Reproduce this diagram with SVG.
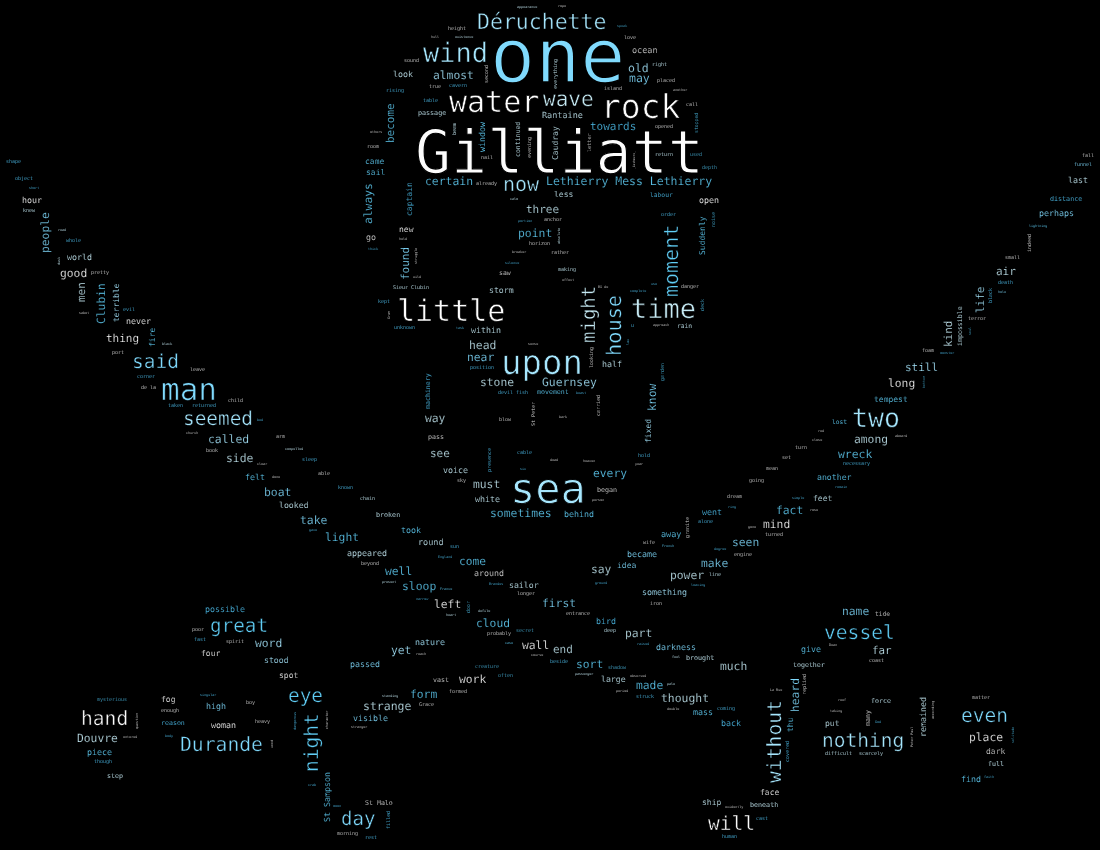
<svg xmlns="http://www.w3.org/2000/svg" width="1100" height="850" viewBox="0 0 1100 850">
<style>
text{font-family:"DejaVu Sans Mono","Liberation Mono",monospace;white-space:pre;text-rendering:geometricPrecision;stroke:#000;stroke-width:.02em}
g{opacity:.995}
.a{fill:#fff}.b{fill:#dcdcdc}.c{fill:#c8ecf6}.d{fill:#a8e8ff}.e{fill:#82dcff}.f{fill:#62d0f8}.g{fill:#50c0ee}.h{fill:#48aed4}
</style>
<rect width="1100" height="850" fill="#000"/>
<g id="words-head">
<text class="e" x="490" y="82" font-size="75">one</text>
<text class="a" x="415" y="173" font-size="60">Gilliatt</text>
<text class="d" x="477" y="29" font-size="21.5">Déruchette</text>
<text class="d" x="423" y="62" font-size="27">wind</text>
<text class="a" x="449" y="112" font-size="30">water</text>
<text class="c" x="543" y="106" font-size="21">wave</text>
<text class="a" x="601" y="118" font-size="33">rock</text>
<text class="c" x="542" y="118" font-size="8.5">Rantaine</text>
<text class="b" x="632" y="53" font-size="8.5">ocean</text>
<text class="d" x="628" y="72" font-size="11.5">old</text>
<text class="e" x="629" y="82" font-size="11.5">may</text>
<text class="b" x="624" y="39" font-size="5">love</text>
<text class="c" x="652" y="66" font-size="5">right</text>
<text class="b" x="657" y="82" font-size="5">placed</text>
<text class="b" x="604" y="90" font-size="5">island</text>
<text class="b" x="673" y="91" font-size="3.4">another</text>
<text class="b" x="686" y="106" font-size="5">call</text>
<text class="h" transform="rotate(-90 698 133)" x="698" y="133" font-size="4.8">stopped</text>
<text class="b" x="655" y="128" font-size="5">opened</text>
<text class="g" x="590" y="130" font-size="11">towards</text>
<text class="c" x="655" y="156" font-size="5">return</text>
<text class="h" x="690" y="156" font-size="5">used</text>
<text class="h" x="702" y="169" font-size="5">depth</text>
<text class="b" transform="rotate(-90 591 152)" x="591" y="152" font-size="5.2">letter</text>
<text class="c" transform="rotate(-90 558 160)" x="558" y="160" font-size="8">Caudray</text>
<text class="b" transform="rotate(-90 635 169)" x="635" y="169" font-size="3">_Cashmere_</text>
<text class="c" transform="rotate(-90 557 89)" x="557" y="89" font-size="5">everything</text>
<text class="h" x="617" y="27" font-size="3.4">speak</text>
<text class="b" x="558" y="7" font-size="3.4">rope</text>
<text class="c" x="517" y="8" font-size="3.4">appearance</text>
<text class="b" x="448" y="30" font-size="5">height</text>
<text class="b" x="431" y="38" font-size="3.4">hull</text>
<text class="c" x="455" y="38" font-size="3.4">existence</text>
<text class="b" x="404" y="62" font-size="5">sound</text>
<text class="c" x="393" y="77" font-size="8.3">look</text>
<text class="d" x="433" y="79" font-size="11.3">almost</text>
<text class="b" transform="rotate(-90 488 83)" x="488" y="83" font-size="5">second</text>
<text class="b" x="429" y="88" font-size="5">true</text>
<text class="g" x="449" y="87" font-size="5">cavern</text>
<text class="g" x="386" y="92" font-size="5">rising</text>
<text class="g" x="423" y="102" font-size="5">table</text>
<text class="c" x="418" y="115" font-size="6.7">passage</text>
<text class="f" transform="rotate(-90 394 143)" x="394" y="143" font-size="11">become</text>
<text class="c" transform="rotate(-90 456 135)" x="456" y="135" font-size="5">beam</text>
<text class="f" transform="rotate(-90 485 152)" x="485" y="152" font-size="8.3">window</text>
<text class="c" transform="rotate(-90 520 157)" x="520" y="157" font-size="6.5">continued</text>
<text class="b" transform="rotate(-90 531 158)" x="531" y="158" font-size="5">evening</text>
<text class="b" x="370" y="133" font-size="3.4">others</text>
<text class="b" x="367" y="148" font-size="5">room</text>
<text class="b" x="481" y="159" font-size="5">nail</text>
<text class="f" x="365" y="164" font-size="8">came</text>
<text class="f" x="366" y="175" font-size="8">sail</text>
<text class="f" transform="rotate(-90 372 224)" x="372" y="224" font-size="11.3">always</text>
<text class="g" transform="rotate(-90 412 216)" x="412" y="216" font-size="8">captain</text>
<text class="f" x="425" y="185" font-size="11.4">certain</text>
<text class="b" x="476" y="185" font-size="5">already</text>
<text class="d" x="503" y="191" font-size="20">now</text>
<text class="c" x="510" y="200" font-size="3.4">calm</text>
<text class="c" x="526" y="213" font-size="11">three</text>
<text class="g" x="518" y="222" font-size="3.4">portion</text>
<text class="a" x="399" y="232" font-size="8">new</text>
<text class="b" x="366" y="240" font-size="8.3">go</text>
<text class="b" x="399" y="240" font-size="3.4">held</text>
<text class="g" x="368" y="250" font-size="3.4">thick</text>
<text class="f" x="518" y="237" font-size="11.4">point</text>
<text class="b" x="529" y="245" font-size="5">horizon</text>
<text class="e" transform="rotate(-90 409 280)" x="409" y="280" font-size="11">found</text>
<text class="b" transform="rotate(-90 417 264)" x="417" y="264" font-size="3.4">struggle</text>
<text class="b" x="512" y="253" font-size="3.4">breaker</text>
<text class="g" x="505" y="264" font-size="3.4">silence</text>
<text class="b" x="499" y="275" font-size="6.5">saw</text>
<text class="b" x="413" y="278" font-size="3.4">wild</text>
<text class="c" x="393" y="289" font-size="5">Sieur Clubin</text>
<text class="c" x="489" y="293" font-size="8.2">storm</text>
<text class="g" x="378" y="303" font-size="5">kept</text>
<text class="a" x="397" y="321" font-size="30">little</text>
<text class="b" transform="rotate(-90 390 319)" x="390" y="319" font-size="3.4">Gram</text>
<text class="g" x="394" y="329" font-size="5">unknown</text>
<text class="g" x="456" y="329" font-size="3.4">task</text>
<text class="c" x="471" y="333" font-size="8.3">within</text>
<text class="c" x="469" y="349" font-size="11.4">head</text>
<text class="b" x="528" y="345" font-size="3.4">sense</text>
<text class="f" x="546" y="185" font-size="11.5">Lethierry Mess Lethierry</text>
<text class="c" x="554" y="197" font-size="8">less</text>
<text class="g" x="650" y="197" font-size="6.3">labour</text>
<text class="a" x="699" y="203" font-size="8.3">open</text>
<text class="g" x="661" y="216" font-size="5">order</text>
<text class="h" transform="rotate(-90 715 227)" x="715" y="227" font-size="5">noise</text>
<text class="b" x="544" y="221" font-size="5">anchor</text>
<text class="f" transform="rotate(-90 705 255)" x="705" y="255" font-size="8">Suddenly</text>
<text class="f" transform="rotate(-90 678 297)" x="678" y="297" font-size="20">moment</text>
<text class="c" transform="rotate(-90 560 244)" x="560" y="244" font-size="3.4">absolute</text>
<text class="b" x="551" y="254" font-size="5">rather</text>
<text class="c" x="558" y="271" font-size="5">making</text>
<text class="b" x="562" y="281" font-size="3.4">effect</text>
<text class="b" x="598" y="288" font-size="3.4">Bû de</text>
<text class="g" x="630" y="292" font-size="3.4">complete</text>
<text class="g" x="651" y="285" font-size="3.4">use</text>
<text class="b" x="681" y="288" font-size="5">danger</text>
<text class="h" transform="rotate(-90 704 311)" x="704" y="311" font-size="5">deck</text>
<text class="c" x="631" y="318" font-size="27">time</text>
<text class="c" transform="rotate(-90 595 343)" x="595" y="343" font-size="19">might</text>
<text class="e" transform="rotate(-90 621 356)" x="621" y="356" font-size="20.3">house</text>
<text class="g" x="631" y="327" font-size="5">u</text>
<text class="b" x="653" y="326" font-size="3.4">approach</text>
<text class="c" x="677" y="328" font-size="6.3">rain</text>
<text class="g" transform="rotate(-90 629 345)" x="629" y="345" font-size="3.4">law</text>
</g>
<g id="words-left">
<text class="g" x="6" y="163" font-size="5">shape</text>
<text class="g" x="15" y="180" font-size="5">object</text>
<text class="g" x="29" y="189" font-size="3.4">short</text>
<text class="a" x="22" y="203" font-size="8.3">hour</text>
<text class="c" x="23" y="212" font-size="5">knew</text>
<text class="e" transform="rotate(-90 49 253)" x="49" y="253" font-size="11.3">people</text>
<text class="c" x="58" y="231" font-size="3.4">read</text>
<text class="g" x="66" y="242" font-size="5">whole</text>
<text class="c" transform="rotate(-90 60 265)" x="60" y="265" font-size="3.4">dusk</text>
<text class="c" x="67" y="260" font-size="8.3">world</text>
<text class="a" x="60" y="277" font-size="11.3">good</text>
<text class="b" x="91" y="274" font-size="5">pretty</text>
<text class="c" transform="rotate(-90 85 302)" x="85" y="302" font-size="11">men</text>
<text class="f" transform="rotate(-90 105 324)" x="105" y="324" font-size="11.3">Clubin</text>
<text class="d" transform="rotate(-90 119 322)" x="119" y="322" font-size="8">terrible</text>
<text class="g" x="123" y="311" font-size="5">evil</text>
<text class="b" x="79" y="314" font-size="3.4">sabot</text>
<text class="a" x="126" y="324" font-size="8.3">never</text>
<text class="a" x="106" y="342" font-size="11">thing</text>
<text class="f" transform="rotate(-90 155 347)" x="155" y="347" font-size="8">fire</text>
<text class="c" x="162" y="345" font-size="3.4">black</text>
<text class="b" x="112" y="354" font-size="5">port</text>
<text class="e" x="132" y="368" font-size="19.5">said</text>
<text class="b" x="190" y="371" font-size="5">leave</text>
<text class="g" x="137" y="378" font-size="5">corner</text>
<text class="b" x="141" y="389" font-size="5">de la</text>
<text class="e" x="161" y="400" font-size="31">man</text>
<text class="g" x="168" y="407" font-size="5">taken</text>
<text class="g" x="192" y="407" font-size="5">returned</text>
<text class="b" x="228" y="402" font-size="5">child</text>
<text class="d" x="183" y="425" font-size="19.4">seemed</text>
<text class="g" x="257" y="421" font-size="3.4">bed</text>
<text class="b" x="186" y="434" font-size="3.4">church</text>
<text class="d" x="208" y="443" font-size="11.4">called</text>
<text class="b" x="276" y="438" font-size="5">arm</text>
<text class="b" x="206" y="452" font-size="5">book</text>
<text class="c" x="285" y="450" font-size="3.4">compelled</text>
<text class="c" x="226" y="462" font-size="11.4">side</text>
<text class="b" x="257" y="465" font-size="3.4">clear</text>
<text class="g" x="302" y="461" font-size="5">sleep</text>
<text class="b" x="318" y="475" font-size="5">able</text>
<text class="f" x="245" y="480" font-size="8.3">felt</text>
<text class="b" x="272" y="478" font-size="3.4">done</text>
<text class="g" x="338" y="489" font-size="5">known</text>
<text class="c" x="360" y="500" font-size="5">chain</text>
<text class="e" x="264" y="496" font-size="11.4">boat</text>
<text class="c" x="279" y="508" font-size="8.2">looked</text>
<text class="c" x="376" y="517" font-size="6.7">broken</text>
<text class="e" x="300" y="524" font-size="11.4">take</text>
<text class="g" x="309" y="531" font-size="3.4">gave</text>
<text class="f" x="401" y="533" font-size="8.3">took</text>
<text class="c" x="418" y="545" font-size="8.5">round</text>
<text class="f" x="325" y="541" font-size="11.3">light</text>
<text class="c" x="347" y="556" font-size="8.3">appeared</text>
<text class="b" x="361" y="565" font-size="5">beyond</text>
<text class="f" x="385" y="575" font-size="11.3">well</text>
<text class="c" x="382" y="583" font-size="3.4">present</text>
<text class="f" x="402" y="590" font-size="11.4">sloop</text>
<text class="g" x="416" y="600" font-size="3.4">narrow</text>
</g>
<g id="words-centre">
<text class="e" x="467" y="361" font-size="11.3">near</text>
<text class="d" x="501" y="374" font-size="34">upon</text>
<text class="b" transform="rotate(-90 593 368)" x="593" y="368" font-size="5">looking</text>
<text class="c" x="602" y="367" font-size="8.3">half</text>
<text class="g" x="470" y="369" font-size="5">position</text>
<text class="g" transform="rotate(-90 430 409)" x="430" y="409" font-size="6.6">machinery</text>
<text class="h" transform="rotate(-90 664 381)" x="664" y="381" font-size="5">garden</text>
<text class="c" x="480" y="386" font-size="11.3">stone</text>
<text class="d" x="542" y="386" font-size="11.4">Guernsey</text>
<text class="e" transform="rotate(-90 656 411)" x="656" y="411" font-size="11.4">know</text>
<text class="g" x="498" y="394" font-size="5">devil fish</text>
<text class="f" x="537" y="394" font-size="6.6">movement</text>
<text class="g" x="576" y="394" font-size="3.4">beast</text>
<text class="b" transform="rotate(-90 600 416)" x="600" y="416" font-size="5">carried</text>
<text class="b" transform="rotate(-90 535 426)" x="535" y="426" font-size="5">St Peter</text>
<text class="c" x="425" y="422" font-size="11.3">way</text>
<text class="b" x="499" y="421" font-size="5">blow</text>
<text class="b" x="559" y="418" font-size="3.4">bark</text>
<text class="d" transform="rotate(-90 651 443)" x="651" y="443" font-size="8">fixed</text>
<text class="b" x="428" y="439" font-size="6.6">pass</text>
<text class="c" x="430" y="457" font-size="11">see</text>
<text class="g" transform="rotate(-90 491 472)" x="491" y="472" font-size="5">presence</text>
<text class="g" x="517" y="454" font-size="5">cable</text>
<text class="g" x="638" y="457" font-size="5">hold</text>
<text class="b" x="550" y="461" font-size="3.4">dead</text>
<text class="b" x="583" y="462" font-size="3.4">heaven</text>
<text class="b" x="635" y="465" font-size="3.4">year</text>
<text class="g" x="520" y="470" font-size="3.4">six</text>
<text class="c" x="443" y="473" font-size="8.3">voice</text>
<text class="f" x="593" y="477" font-size="11.3">every</text>
<text class="b" x="457" y="482" font-size="5">sky</text>
<text class="c" x="473" y="488" font-size="11.3">must</text>
<text class="d" x="510" y="503" font-size="42">sea</text>
<text class="b" x="597" y="492" font-size="6.7">began</text>
<text class="c" x="475" y="502" font-size="8.3">white</text>
<text class="b" x="592" y="501" font-size="3.4">person</text>
<text class="f" x="490" y="517" font-size="11.4">sometimes</text>
<text class="f" x="564" y="517" font-size="8.3">behind</text>
<text class="f" x="661" y="537" font-size="8.5">away</text>
<text class="b" x="643" y="544" font-size="5">wife</text>
<text class="f" x="662" y="547" font-size="3.4">French</text>
<text class="g" x="450" y="548" font-size="5">sun</text>
<text class="g" x="438" y="558" font-size="3.4">England</text>
<text class="e" x="627" y="557" font-size="8.3">became</text>
<text class="f" x="459" y="565" font-size="11.2">come</text>
</g>
<g id="words-right">
<text class="b" x="1082" y="157" font-size="5">fall</text>
<text class="e" x="1074" y="166" font-size="5">funnel</text>
<text class="c" x="1068" y="183" font-size="8.3">last</text>
<text class="g" x="1050" y="201" font-size="6.7">distance</text>
<text class="e" x="1039" y="216" font-size="8.3">perhaps</text>
<text class="f" x="1029" y="227" font-size="3.4">lightning</text>
<text class="b" transform="rotate(-90 1031 252)" x="1031" y="252" font-size="5">indeed</text>
<text class="b" x="1005" y="259" font-size="5">small</text>
<text class="c" x="996" y="275" font-size="11">air</text>
<text class="g" x="998" y="284" font-size="5">death</text>
<text class="e" x="998" y="293" font-size="3.4">hole</text>
<text class="d" transform="rotate(-90 984 313)" x="984" y="313" font-size="11">life</text>
<text class="g" transform="rotate(-90 992 303)" x="992" y="303" font-size="5">black</text>
<text class="b" x="968" y="320" font-size="5">terror</text>
<text class="c" transform="rotate(-90 962 346)" x="962" y="346" font-size="6.6">impossible</text>
<text class="h" transform="rotate(-90 971 335)" x="971" y="335" font-size="3.4">soul</text>
<text class="c" transform="rotate(-90 952 347)" x="952" y="347" font-size="11">kind</text>
<text class="b" x="922" y="352" font-size="5">foam</text>
<text class="g" x="940" y="354" font-size="3.4">monster</text>
<text class="d" x="905" y="371" font-size="11">still</text>
<text class="a" x="888" y="387" font-size="11.3">long</text>
<text class="h" transform="rotate(-90 925 388)" x="925" y="388" font-size="3.4">bottom</text>
<text class="f" x="874" y="402" font-size="8">tempest</text>
<text class="d" x="852" y="427" font-size="26.5">two</text>
<text class="f" x="832" y="424" font-size="6.3">lost</text>
<text class="b" x="818" y="432" font-size="3.4">red</text>
<text class="b" x="812" y="441" font-size="3.4">close</text>
<text class="b" x="895" y="437" font-size="3.4">aboard</text>
<text class="c" x="854" y="443" font-size="11.3">among</text>
<text class="b" x="795" y="449" font-size="5">turn</text>
<text class="b" x="782" y="459" font-size="5">set</text>
<text class="f" x="838" y="458" font-size="11.4">wreck</text>
<text class="g" x="843" y="465" font-size="5">necessary</text>
<text class="b" x="766" y="470" font-size="5">mean</text>
<text class="f" x="817" y="480" font-size="8.2">another</text>
<text class="b" x="749" y="482" font-size="5">going</text>
<text class="g" x="835" y="488" font-size="3.4">remain</text>
<text class="b" x="727" y="498" font-size="5">dream</text>
<text class="g" x="792" y="499" font-size="3.4">simple</text>
<text class="c" x="813" y="501" font-size="8">feet</text>
<text class="g" x="728" y="508" font-size="3.4">ring</text>
<text class="b" x="810" y="511" font-size="3.4">rose</text>
<text class="f" x="776" y="514" font-size="11.3">fact</text>
<text class="g" x="702" y="515" font-size="8.3">went</text>
<text class="g" x="698" y="523" font-size="5">alone</text>
<text class="b" x="748" y="528" font-size="3.4">gone</text>
<text class="a" x="763" y="528" font-size="11.3">mind</text>
<text class="b" x="765" y="536" font-size="5">turned</text>
<text class="b" transform="rotate(-90 689 538)" x="689" y="538" font-size="5">granite</text>
<text class="e" x="732" y="546" font-size="11.3">seen</text>
<text class="g" x="714" y="550" font-size="3.4">degree</text>
<text class="b" x="734" y="556" font-size="5">engine</text>
<text class="e" x="701" y="567" font-size="11.3">make</text>
<text class="c" x="670" y="579" font-size="11.3">power</text>
<text class="c" x="709" y="576" font-size="5">line</text>
<text class="g" x="691" y="586" font-size="3.4">leaving</text>
</g>
<g id="words-bottom-left">
<text class="g" x="205" y="612" font-size="8.3">possible</text>
<text class="f" x="210" y="632" font-size="19.3">great</text>
<text class="b" x="192" y="631" font-size="5">poor</text>
<text class="g" x="194" y="641" font-size="5">fast</text>
<text class="b" x="226" y="643" font-size="5">spirit</text>
<text class="d" x="255" y="647" font-size="11.3">word</text>
<text class="a" x="201" y="656" font-size="8">four</text>
<text class="d" x="264" y="663" font-size="8.2">stood</text>
<text class="e" x="350" y="667" font-size="8.3">passed</text>
<text class="a" x="279" y="678" font-size="8">spot</text>
<text class="f" x="288" y="702" font-size="19.4">eye</text>
<text class="h" x="97" y="701" font-size="5">mysterious</text>
<text class="a" x="161" y="702" font-size="8">fog</text>
<text class="g" x="200" y="696" font-size="3.4">singular</text>
<text class="b" x="246" y="704" font-size="5">boy</text>
<text class="b" x="161" y="712" font-size="5">enough</text>
<text class="e" x="206" y="709" font-size="8.3">high</text>
<text class="a" x="81" y="725" font-size="19.6">hand</text>
<text class="b" transform="rotate(-90 138 729)" x="138" y="729" font-size="3.4">question</text>
<text class="g" x="161" y="725" font-size="6.6">reason</text>
<text class="a" x="211" y="728" font-size="8.3">woman</text>
<text class="b" x="255" y="723" font-size="5">heavy</text>
<text class="g" transform="rotate(-90 296 730)" x="296" y="730" font-size="3.4">dangerous</text>
<text class="b" transform="rotate(-90 328 729)" x="328" y="729" font-size="3.4">character</text>
<text class="f" transform="rotate(-90 318 772)" x="318" y="772" font-size="19.5">night</text>
<text class="c" x="77" y="742" font-size="11.3">Douvre</text>
<text class="b" x="123" y="738" font-size="3.4">entered</text>
<text class="g" x="165" y="737" font-size="3.4">body</text>
<text class="e" x="180" y="751" font-size="19.7">Durande</text>
<text class="b" transform="rotate(-90 273 748)" x="273" y="748" font-size="3.4">wood</text>
<text class="f" x="87" y="755" font-size="8.3">piece</text>
<text class="g" x="94" y="763" font-size="5">though</text>
<text class="c" x="107" y="778" font-size="6.6">step</text>
<text class="g" x="308" y="786" font-size="3.4">crab</text>
<text class="f" transform="rotate(-90 330 822)" x="330" y="822" font-size="8.3">St Sampson</text>
<text class="g" x="333" y="807" font-size="3.4">moon</text>
<text class="b" x="365" y="805" font-size="6.6">St Malo</text>
<text class="e" x="341" y="825" font-size="19">day</text>
<text class="g" transform="rotate(-90 390 829)" x="390" y="829" font-size="5">filled</text>
<text class="b" x="337" y="835" font-size="5">morning</text>
<text class="g" x="365" y="839" font-size="5">rest</text>
</g>
<g id="words-bottom-centre">
<text class="b" x="474" y="576" font-size="8.3">around</text>
<text class="c" x="591" y="573" font-size="11.3">say</text>
<text class="e" x="617" y="568" font-size="8">idea</text>
<text class="g" x="489" y="585" font-size="3.4">Brandes</text>
<text class="c" x="509" y="588" font-size="8.2">sailor</text>
<text class="g" x="595" y="584" font-size="3.4">ground</text>
<text class="f" x="440" y="590" font-size="3.4">France</text>
<text class="d" x="642" y="595" font-size="8.3">something</text>
<text class="b" x="517" y="595" font-size="5">longer</text>
<text class="a" x="434" y="608" font-size="11.3">left</text>
<text class="h" transform="rotate(-90 470 613)" x="470" y="613" font-size="5">door</text>
<text class="c" x="478" y="612" font-size="3.4">defile</text>
<text class="e" x="542" y="607" font-size="11.3">first</text>
<text class="b" x="650" y="605" font-size="5">iron</text>
<text class="b" x="566" y="615" font-size="5">entrance</text>
<text class="c" x="446" y="616" font-size="3.4">heart</text>
<text class="f" x="476" y="627" font-size="11.3">cloud</text>
<text class="g" x="596" y="624" font-size="8.3">bird</text>
<text class="b" x="487" y="635" font-size="5">probably</text>
<text class="h" x="516" y="632" font-size="5">secret</text>
<text class="c" x="604" y="632" font-size="5">deep</text>
<text class="c" x="625" y="637" font-size="11.3">part</text>
<text class="d" x="415" y="645" font-size="8.3">nature</text>
<text class="f" x="505" y="644" font-size="3.4">case</text>
<text class="g" x="637" y="645" font-size="3.4">raised</text>
<text class="e" x="656" y="650" font-size="8.3">darkness</text>
<text class="a" x="522" y="649" font-size="11.3">wall</text>
<text class="c" x="553" y="653" font-size="11">end</text>
<text class="d" x="391" y="654" font-size="11.3">yet</text>
<text class="b" x="416" y="655" font-size="3.4">reach</text>
<text class="b" x="531" y="656" font-size="3.4">course</text>
<text class="c" x="672" y="658" font-size="3.4">feel</text>
<text class="g" x="550" y="663" font-size="5">beside</text>
<text class="f" x="576" y="668" font-size="11.3">sort</text>
<text class="h" x="475" y="668" font-size="5">creature</text>
<text class="h" x="608" y="669" font-size="5">shadow</text>
<text class="h" x="498" y="677" font-size="5">often</text>
<text class="c" x="575" y="675" font-size="3.4">passenger</text>
<text class="b" x="433" y="682" font-size="6.6">vast</text>
<text class="a" x="459" y="683" font-size="11.3">work</text>
<text class="c" x="601" y="682" font-size="8.2">large</text>
<text class="b" x="630" y="677" font-size="3.4">observed</text>
<text class="c" x="667" y="685" font-size="3.4">pale</text>
<text class="f" x="636" y="689" font-size="11.3">made</text>
<text class="b" x="449" y="693" font-size="5">formed</text>
<text class="b" x="616" y="692" font-size="3.4">period</text>
<text class="g" x="636" y="698" font-size="5">struck</text>
<text class="f" x="410" y="698" font-size="11.3">form</text>
<text class="c" x="382" y="697" font-size="3.4">standing</text>
<text class="c" x="661" y="702" font-size="11.4">thought</text>
<text class="b" x="667" y="710" font-size="3.4">double</text>
<text class="c" x="363" y="710" font-size="11.5">strange</text>
<text class="b" x="419" y="706" font-size="5">Grace</text>
<text class="e" x="353" y="721" font-size="8.3">visible</text>
<text class="b" x="351" y="728" font-size="3.4">stranger</text>
</g>
<g id="words-bottom-right">
<text class="e" x="842" y="615" font-size="11.3">name</text>
<text class="b" x="875" y="616" font-size="6.3">tide</text>
<text class="f" x="824" y="639" font-size="19.6">vessel</text>
<text class="b" x="829" y="646" font-size="3.4">Dean</text>
<text class="f" x="801" y="652" font-size="8.3">give</text>
<text class="c" x="872" y="654" font-size="10.8">far</text>
<text class="b" x="869" y="662" font-size="5">coast</text>
<text class="c" x="686" y="660" font-size="6.7">brought</text>
<text class="c" x="720" y="670" font-size="11.3">much</text>
<text class="c" x="793" y="667" font-size="6.6">together</text>
<text class="b" transform="rotate(-90 806 695)" x="806" y="695" font-size="5">replied</text>
<text class="e" transform="rotate(-90 799 712)" x="799" y="712" font-size="11.3">heard</text>
<text class="b" x="770" y="691" font-size="3.4">La Rue</text>
<text class="b" x="838" y="701" font-size="3.4">reef</text>
<text class="c" x="871" y="703" font-size="6.6">force</text>
<text class="b" x="972" y="699" font-size="5">matter</text>
<text class="d" transform="rotate(-90 781 783)" x="781" y="783" font-size="19.7">without</text>
<text class="b" x="830" y="712" font-size="3.4">taking</text>
<text class="g" x="717" y="710" font-size="5">coming</text>
<text class="f" x="693" y="715" font-size="8.3">mass</text>
<text class="b" transform="rotate(-90 870 726)" x="870" y="726" font-size="6.6">many</text>
<text class="c" transform="rotate(-90 926 737)" x="926" y="737" font-size="8.3">remained</text>
<text class="b" transform="rotate(-90 934 719)" x="934" y="719" font-size="3.4">according</text>
<text class="e" x="961" y="722" font-size="19.5">even</text>
<text class="f" transform="rotate(-90 793 732)" x="793" y="732" font-size="8">thu</text>
<text class="g" x="721" y="726" font-size="8.3">back</text>
<text class="c" x="825" y="726" font-size="8">put</text>
<text class="g" x="875" y="723" font-size="3.4">God</text>
<text class="d" x="822" y="747" font-size="19.5">nothing</text>
<text class="b" transform="rotate(-90 913 747)" x="913" y="747" font-size="3.4">Peter Paul</text>
<text class="a" x="969" y="741" font-size="11.3">place</text>
<text class="h" transform="rotate(-90 1014 743)" x="1014" y="743" font-size="3.4">solitude</text>
<text class="b" x="986" y="754" font-size="8">dark</text>
<text class="g" transform="rotate(-90 789 762)" x="789" y="762" font-size="5">covered</text>
<text class="c" x="825" y="755" font-size="5">difficult</text>
<text class="c" x="859" y="755" font-size="5">scarcely</text>
<text class="c" x="988" y="766" font-size="6.6">full</text>
<text class="f" x="961" y="782" font-size="8.3">find</text>
<text class="g" x="984" y="778" font-size="3.4">faith</text>
<text class="a" x="760" y="795" font-size="8">face</text>
<text class="c" x="702" y="805" font-size="8">ship</text>
<text class="b" x="725" y="808" font-size="3.4">evidently</text>
<text class="c" x="750" y="807" font-size="6.7">beneath</text>
<text class="g" x="756" y="820" font-size="5">cast</text>
<text class="a" x="708" y="830" font-size="19.5">will</text>
<text class="g" x="722" y="838" font-size="5">human</text>
</g>
</svg>
